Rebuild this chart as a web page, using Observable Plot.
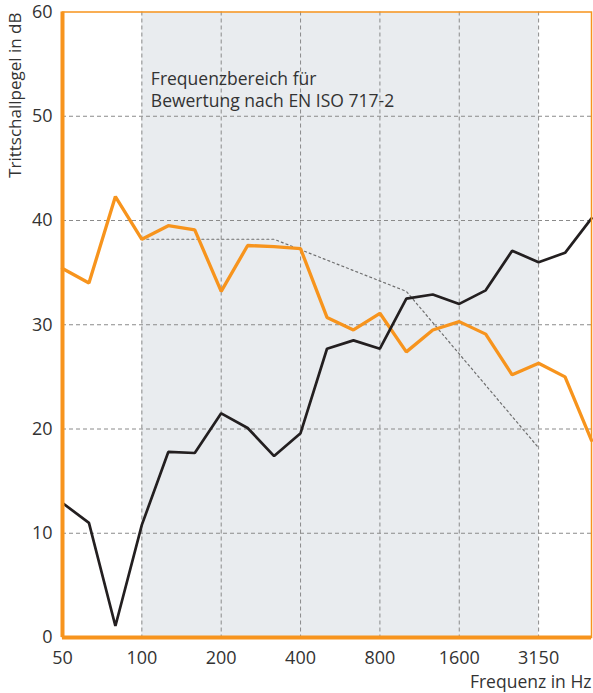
<!DOCTYPE html>
<html>
<head>
<meta charset="utf-8">
<script src="https://cdn.jsdelivr.net/npm/d3@7"></script>
<script src="https://cdn.jsdelivr.net/npm/@observablehq/plot@0.6"></script>
<style>
  html, body { margin: 0; padding: 0; background: #fff; }
  #chart svg { display: block; }
</style>
</head>
<body>
<div id="chart"></div>
<script>
// Third-octave band centre frequencies (Hz)
const bands = [50, 63, 80, 100, 125, 160, 200, 250, 315, 400, 500, 630, 800, 1000, 1250, 1600, 2000, 2500, 3150, 4000, 5000];
// Orange series (dB)
const orangeValues = [35.4, 34.0, 42.3, 38.2, 39.5, 39.1, 33.2, 37.6, 37.5, 37.3, 30.7, 29.5, 31.1, 27.4, 29.5, 30.3, 29.1, 25.2, 26.3, 25.0, 18.9];
// Black series (dB)
const blackValues = [12.9, 11.0, 1.1, 10.8, 17.8, 17.7, 21.5, 20.1, 17.4, 19.6, 27.7, 28.5, 27.7, 32.5, 32.9, 32.0, 33.3, 37.1, 36.0, 36.9, 40.2];
// Shifted reference curve (100 … 3150 Hz)
const refBands = [100, 125, 160, 200, 250, 315, 400, 500, 630, 800, 1000, 1250, 1600, 2000, 2500, 3150];
const refValues = [38.2, 38.2, 38.2, 38.2, 38.2, 38.2, 37.2, 36.2, 35.2, 34.2, 33.2, 30.2, 27.2, 24.2, 21.2, 18.2];
// Axis ticks
const xTickLabels = ["50", "100", "200", "400", "800", "1600", "3150"];
const yTicks = [0, 10, 20, 30, 40, 50, 60];
// Evaluation range
const rangeStart = 100, rangeEnd = 3150;
const noteText = "Frequenzbereich für\nBewertung nach EN ISO 717-2";
const xTitle = "Frequenz in Hz";
const yTitle = "Trittschallpegel in dB";

const idx = f => bands.indexOf(f);
const orange = bands.map((f, i) => ({x: i, y: orangeValues[i]}));
const black = bands.map((f, i) => ({x: i, y: blackValues[i]}));
const ref = refBands.map((f, i) => ({x: idx(f), y: refValues[i]}));
const xTicks = xTickLabels.map(t => idx(+t));

const ORANGE = "#f7941d";
const DARK = "#231f20";
const GRID = "#8a8a8a";
const FONT = "'Open Sans', sans-serif";

const chart = Plot.plot({
  width: 593,
  height: 693,
  marginLeft: 62,
  marginRight: 2,
  marginTop: 11.5,
  marginBottom: 56,
  style: {fontFamily: FONT, color: "#333", background: "#fff"},
  x: {type: "linear", domain: [0, bands.length - 1]},
  y: {domain: [0, 60]},
  marks: [
    Plot.rect([{x1: idx(rangeStart), x2: idx(rangeEnd)}], {x1: "x1", x2: "x2", y1: 0, y2: 60, fill: "#e9ecef"}),
    Plot.ruleY(yTicks.filter(v => v > 0 && v < 60), {stroke: GRID, strokeWidth: 1, strokeDasharray: "4,3"}),
    Plot.ruleX(xTicks.filter(v => v > 0), {stroke: GRID, strokeWidth: 1, strokeDasharray: "4,3"}),
    Plot.line(ref, {x: "x", y: "y", stroke: "#6f6f6f", strokeWidth: 1.2, strokeDasharray: "2,3"}),
    Plot.line(orange, {x: "x", y: "y", stroke: ORANGE, strokeWidth: 3.3, strokeLinejoin: "miter"}),
    Plot.line(black, {x: "x", y: "y", stroke: DARK, strokeWidth: 2.7, strokeLinejoin: "miter"}),
    Plot.frame({stroke: ORANGE, strokeWidth: 1.5}),
    Plot.ruleX([0], {stroke: ORANGE, strokeWidth: 4}),
    Plot.ruleY([0], {stroke: ORANGE, strokeWidth: 4}),
    Plot.text([noteText], {x: idx(rangeStart), y: 54.5, dx: 9, text: d => d, textAnchor: "start", lineAnchor: "top", lineHeight: 1.25, fontSize: 17.5, fill: "#333"}),
    Plot.axisY(yTicks, {tickSize: 0, tickPadding: 10, fontSize: 18, label: null, fill: "#333"}),
    Plot.axisX(xTicks, {tickSize: 0, tickPadding: 14, fontSize: 18, label: null, fill: "#333", tickFormat: i => String(bands[i])}),
    Plot.text([xTitle], {frameAnchor: "bottom-right", text: d => d, textAnchor: "end", lineAnchor: "bottom", dy: 50, fontSize: 17.5, fill: "#333"}),
    Plot.text([yTitle], {frameAnchor: "top-left", text: d => d, rotate: -90, textAnchor: "end", lineAnchor: "middle", dx: -47, dy: 0.5, fontSize: 17, fill: "#333"})
  ]
});
document.getElementById("chart").append(chart);
</script>
</body>
</html>
